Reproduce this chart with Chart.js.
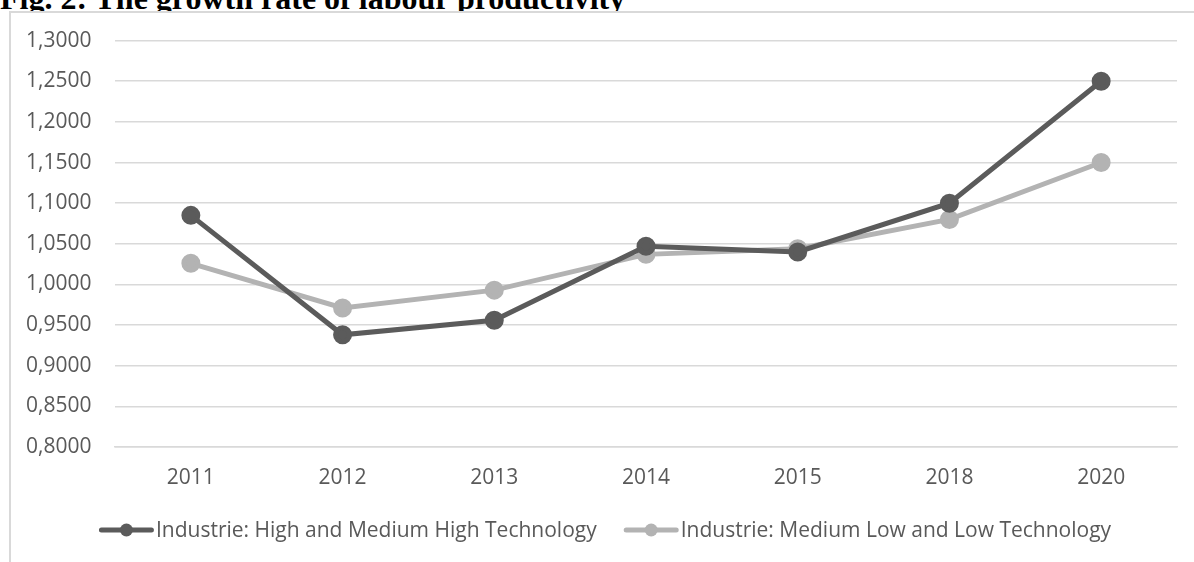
<!DOCTYPE html>
<html>
<head>
<meta charset="utf-8">
<script src="https://cdn.jsdelivr.net/npm/chart.js@4"></script>
<style>
  body { margin: 0; width: 1194px; height: 562px; overflow: hidden; background: #fff; position: relative; }
  #title { position: absolute; left: 0; top: -20px; font: bold 32px "Liberation Serif", serif; color: #000; white-space: nowrap; }
  #box { position: absolute; left: 9px; top: 11px; width: 1204px; height: 560px; border-left: 2px solid #d9d9d9; border-top: 2px solid #d9d9d9; background: #fff; }
</style>
</head>
<body>
<div id="title">Fig. 2: The growth rate of labour productivity</div>
<div id="box"><canvas id="myChart" width="1204" height="560"></canvas></div>
<script>
// data
const years = ["2011", "2012", "2013", "2014", "2015", "2018", "2020"];
const highTech = [1.085, 0.938, 0.956, 1.047, 1.040, 1.100, 1.250];
const lowTech = [1.026, 0.971, 0.993, 1.037, 1.044, 1.080, 1.150];
const seriesNames = ["Industrie: High and Medium High Technology", "Industrie: Medium Low and Low Technology"];

const dark = "#5b5b5b";
const light = "#b3b3b3";
const textColor = "#595959";
const fontFamily = "'Open Sans', sans-serif";
const fontSize = 21;

// Excel-like legend: line + dot marker followed by the label, centred under the chart
const bottomLegend = {
	id: "bottomLegend",
	afterDraw(chart) {
		const c = chart.ctx;
		const centerX = 594;
		const y = 517;
		const markerW = 55;
		const gap = 27;
		c.save();
		c.font = fontSize + "px " + fontFamily;
		const widths = chart.data.datasets.map((d) => markerW + 2 + c.measureText(d.label).width);
		let x = centerX - (widths.reduce((a, b) => a + b, 0) + gap * (widths.length - 1)) / 2;
		chart.data.datasets.forEach((d, i) => {
			c.strokeStyle = d.borderColor;
			c.lineWidth = 5;
			c.lineCap = "round";
			c.beginPath();
			c.moveTo(x + 2.5, y);
			c.lineTo(x + markerW - 2.5, y);
			c.stroke();
			c.fillStyle = d.borderColor;
			c.beginPath();
			c.arc(x + markerW / 2, y, 6.5, 0, Math.PI * 2);
			c.fill();
			c.fillStyle = textColor;
			c.textBaseline = "middle";
			c.textAlign = "left";
			c.fillText(d.label, x + markerW + 2, y + 1);
			x += widths[i] + gap;
		});
		c.restore();
	},
};

const ctx = document.getElementById("myChart").getContext("2d");
new Chart(ctx, {
	type: "line",
	data: {
		labels: years,
		datasets: [
			{
				label: seriesNames[0],
				data: highTech,
				borderColor: dark,
				backgroundColor: dark,
				borderWidth: 5,
				pointRadius: 7,
				pointHoverRadius: 7,
			},
			{
				label: seriesNames[1],
				data: lowTech,
				borderColor: light,
				backgroundColor: light,
				borderWidth: 5,
				pointRadius: 7,
				pointHoverRadius: 7,
			},
		],
	},
	options: {
		responsive: false,
		animation: false,
		layout: { padding: { top: 0, right: 38, left: 15, bottom: 82 } },
		scales: {
			x: {
				offset: true,
				afterFit: (s) => { s.height = 44; },
				grid: { display: false, drawTicks: false },
				border: { color: "#d9d9d9", width: 1.5 },
				ticks: { color: textColor, font: { family: fontFamily, size: fontSize }, padding: 18 },
			},
			y: {
				min: 0.8,
				max: 1.3,
				afterFit: (s) => { s.width = 89; },
				grid: { color: "#d9d9d9", lineWidth: 1.5, drawTicks: false },
				border: { display: false },
				ticks: {
					stepSize: 0.05,
					color: textColor,
					padding: 15,
					crossAlign: "far",
					font: { family: fontFamily, size: fontSize },
					callback: (v) => v.toFixed(4).replace(".", ","),
				},
			},
		},
		plugins: {
			legend: { display: false },
			tooltip: { enabled: false },
		},
	},
	plugins: [bottomLegend],
});
</script>
</body>
</html>
